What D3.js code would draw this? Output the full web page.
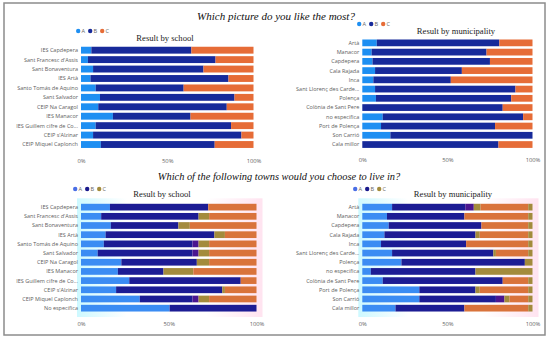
<!DOCTYPE html>
<html>
<head>
<meta charset="utf-8">
<script src="https://cdn.jsdelivr.net/npm/d3@7"></script>
<style>
  body { margin: 0; background: #fff; }
  text { font-family: "Open Sans", sans-serif; }
  text.serif { font-family: "Liberation Serif", "Times New Roman", serif; }
</style>
</head>
<body>
<script>
// ---- data (percent of answers) ----
var schoolsTop = ["IES Capdepera", "Sant Francesc d'Assis", "Sant Bonaventura", "IES Artà",
  "Santo Tomás de Aquino", "Sant Salvador", "CEIP Na Caragol", "IES Manacor",
  "IES Guillem cifre de Co...", "CEIP s'Alzinar", "CEIP Miquel Caplonch"];
var schoolsTopA = [6, 4, 7, 5.5, 8.5, 11, 10, 18.5, 8.5, 7, 11.5];
var schoolsTopB = [58, 74, 64, 80, 51, 78, 74.5, 45, 78.5, 86, 66];
var schoolsTopC = [36, 22, 29, 14.5, 40.5, 11, 15.5, 36.5, 13, 7, 22.5];

var townsTop = ["Artà", "Manacor", "Capdepera", "Cala Rajada", "Inca", "Sant Llorenç des Carde...",
  "Polença", "Colònia de Sant Pere", "no especifica", "Port de Polença", "Son Carrió", "Cala millor"];
var townsTopA = [8.5, 5.5, 6, 7.5, 6.5, 7.5, 8, 0, 12, 11, 16.5, 0];
var townsTopB = [72, 67.5, 69, 51, 45.5, 82.5, 79.5, 82.5, 82.5, 67, 83.5, 80];
var townsTopC = [19.5, 27, 25, 41.5, 48, 10, 12.5, 17.5, 5.5, 22, 0, 20];

var schoolsBot = schoolsTop.concat(["No especifica"]);
var schoolsBotA = [16.5, 11.5, 17, 14, 13, 9.5, 23, 21, 27.5, 20, 33.5, 50.5];
var schoolsBotB = [56, 55.5, 38.5, 62, 50.5, 54, 43, 26, 63.5, 60.5, 30, 49.5];
var schoolsBotD = [0, 0, 0, 0, 3.5, 3.5, 0, 0, 0, 0, 3.5, 0];
var schoolsBotC = [0, 6, 6.5, 6, 6, 6, 7, 17, 0, 1.5, 6, 0];
var schoolsBotE = [27.5, 27, 38, 18, 27, 27, 27, 36, 9, 18, 27, 0];

var townsBot = ["Artà", "Manacor", "Capdepera", "Cala Rajada", "Inca", "Sant Llorenç des Carde...",
  "Polença", "no especifica", "Colònia de Sant Pere", "Port de Polença", "Son Carrió", "Cala millor"];
var townsBotA = [17.5, 14.5, 15.5, 13, 11, 17.5, 23, 5, 12, 33.5, 33.5, 19.5];
var townsBotB = [43, 45.5, 54.5, 53.5, 50, 59.5, 72.5, 61.5, 70.5, 33, 45, 40.5];
var townsBotD = [5, 0, 0, 0, 0, 0, 0, 0, 0, 0, 5, 0];
var townsBotC = [4, 0, 0, 2.5, 0, 1.5, 0, 33.5, 0, 2.5, 3, 0];
var townsBotE = [28, 37.5, 27.5, 28.5, 36.5, 19, 0, 0, 15, 28.5, 11, 37.5];
var townsBotF = [2.5, 2.5, 2.5, 2.5, 2.5, 2.5, 4.5, 0, 2.5, 2.5, 2.5, 2.5];

var legendKeys = ["A", "B", "C"];
var xTicks = [0, 50, 100];

// ---- layout ----
var W = 550, H = 341;
var svg = d3.select("body").append("svg").attr("width", W).attr("height", H);

svg.append("rect").attr("x", 4).attr("y", 3).attr("width", 541).attr("height", 332)
  .attr("fill", "#fff").attr("stroke", "#8c8c8c").attr("stroke-width", 1.5);

var defs = svg.append("defs");
var g1 = defs.append("linearGradient").attr("id", "cyanfade");
g1.append("stop").attr("offset", "0%").attr("stop-color", "#c8f8ff").attr("stop-opacity", 0.9);
g1.append("stop").attr("offset", "100%").attr("stop-color", "#c8f8ff").attr("stop-opacity", 0);
var g2 = defs.append("linearGradient").attr("id", "pinkfade");
g2.append("stop").attr("offset", "0%").attr("stop-color", "#ffe0ee").attr("stop-opacity", 0);
g2.append("stop").attr("offset", "100%").attr("stop-color", "#ffe0ee").attr("stop-opacity", 0.9);

function rows(cats, cols) {
  return cats.map(function(c, i) {
    var r = { cat: c };
    Object.keys(cols).forEach(function(k) { r[k] = cols[k][i]; });
    return r;
  });
}

function drawChart(o) {
  var g = svg.append("g");
  var x = d3.scaleLinear().domain([0, 100]).range([o.x0, o.x1]);
  var y = d3.scaleBand().domain(o.cats).range([o.y0, o.y1]).padding(0.27);

  if (o.glow) {
    g.append("rect").attr("x", o.x0 - 4).attr("y", o.y0 - 3).attr("width", 50)
      .attr("height", o.y1 - o.y0 + 6).attr("fill", "url(#cyanfade)");
    g.append("rect").attr("x", o.x1 - 50).attr("y", o.y0 - 3).attr("width", 56)
      .attr("height", o.y1 - o.y0 + 6).attr("fill", "url(#pinkfade)");
  }

  var stack = d3.stack().keys(o.keys)(o.data);
  g.selectAll("g.layer").data(stack).enter().append("g")
    .attr("fill", function(d) { return o.colors[d.key]; })
    .selectAll("rect").data(function(d) { return d; }).enter().append("rect")
    .attr("x", function(d) { return x(d[0]); })
    .attr("width", function(d) { return Math.max(0, x(d[1]) - x(d[0])); })
    .attr("y", function(d) { return y(d.data.cat); })
    .attr("height", y.bandwidth());

  g.selectAll("text.cat").data(o.cats).enter().append("text")
    .attr("x", o.x0 - 3)
    .attr("y", function(d) { return y(d) + y.bandwidth() / 2; })
    .attr("dy", "0.35em").attr("text-anchor", "end")
    .attr("font-size", 5.5).attr("fill", "#5e5e5e").text(function(d) { return d; });

  var ax = g.append("g").attr("transform", "translate(0," + o.axisY + ")")
    .call(d3.axisBottom(x).tickValues(xTicks).tickSize(0).tickFormat(function(d) { return d + "%"; }));
  ax.select(".domain").remove();
  ax.selectAll("text").attr("font-size", 5.8).attr("fill", "#666");

  g.append("text").attr("class", "serif").attr("x", o.titleX).attr("y", o.titleY)
    .attr("text-anchor", "middle").attr("font-size", 8.6).attr("fill", "#222")
    .text(o.title);

  var lg = g.append("g").attr("transform", "translate(" + o.legX + "," + o.legY + ")");
  legendKeys.forEach(function(k, i) {
    lg.append("circle").attr("cx", i * 12 + 2.2).attr("cy", 0).attr("r", 2.2).attr("fill", o.legColors[k]);
    lg.append("text").attr("x", i * 12 + 5.5).attr("y", 0).attr("dy", "0.35em")
      .attr("font-size", 5.6).attr("fill", "#666").text(k);
  });
}

var topColors = { A: "#1e8ff2", B: "#172a9a", C: "#e66c37" };
var botColors = { A: "#3b8cf3", B: "#1c1c94", D: "#4a1690", C: "#a38b3c", E: "#d9733b", F: "#a38b3c" };
var botLegend = { A: "#4a6ee6", B: "#1a1a8c", C: "#a38b3c" };

svg.append("text").attr("class", "serif").attr("x", 276).attr("y", 20).attr("text-anchor", "middle")
  .attr("font-style", "italic").attr("font-size", 11).attr("fill", "#111")
  .text("Which picture do you like the most?");
svg.append("text").attr("class", "serif").attr("x", 279).attr("y", 180).attr("text-anchor", "middle")
  .attr("font-style", "italic").attr("font-size", 10.4).attr("fill", "#111")
  .text("Which of the following towns would you choose to live in?");

drawChart({
  cats: schoolsTop, keys: ["A", "B", "C"], colors: topColors, legColors: topColors,
  data: rows(schoolsTop, { A: schoolsTopA, B: schoolsTopB, C: schoolsTopC }),
  x0: 81, x1: 253.5, y0: 44.2, y1: 150.5, axisY: 156,
  title: "Result by school", titleX: 165, titleY: 41, legX: 76, legY: 31
});
drawChart({
  cats: townsTop, keys: ["A", "B", "C"], colors: topColors, legColors: topColors,
  data: rows(townsTop, { A: townsTopA, B: townsTopB, C: townsTopC }),
  x0: 362.3, x1: 532.5, y0: 37, y1: 150.4, axisY: 155,
  title: "Result by municipality", titleX: 456, titleY: 34, legX: 357, legY: 24
});
drawChart({
  cats: schoolsBot, keys: ["A", "B", "D", "C", "E"], colors: botColors, legColors: botLegend,
  data: rows(schoolsBot, { A: schoolsBotA, B: schoolsBotB, D: schoolsBotD, C: schoolsBotC, E: schoolsBotE }),
  x0: 81, x1: 256.5, y0: 201.3, y1: 314, axisY: 319, glow: true,
  title: "Result by school", titleX: 162, titleY: 197, legX: 73, legY: 189
});
drawChart({
  cats: townsBot, keys: ["A", "B", "D", "C", "E", "F"], colors: botColors, legColors: botLegend,
  data: rows(townsBot, { A: townsBotA, B: townsBotB, D: townsBotD, C: townsBotC, E: townsBotE, F: townsBotF }),
  x0: 362.3, x1: 532.5, y0: 201.3, y1: 314, axisY: 319, glow: true,
  title: "Result by municipality", titleX: 453, titleY: 197, legX: 353, legY: 189
});
</script>
</body>
</html>
